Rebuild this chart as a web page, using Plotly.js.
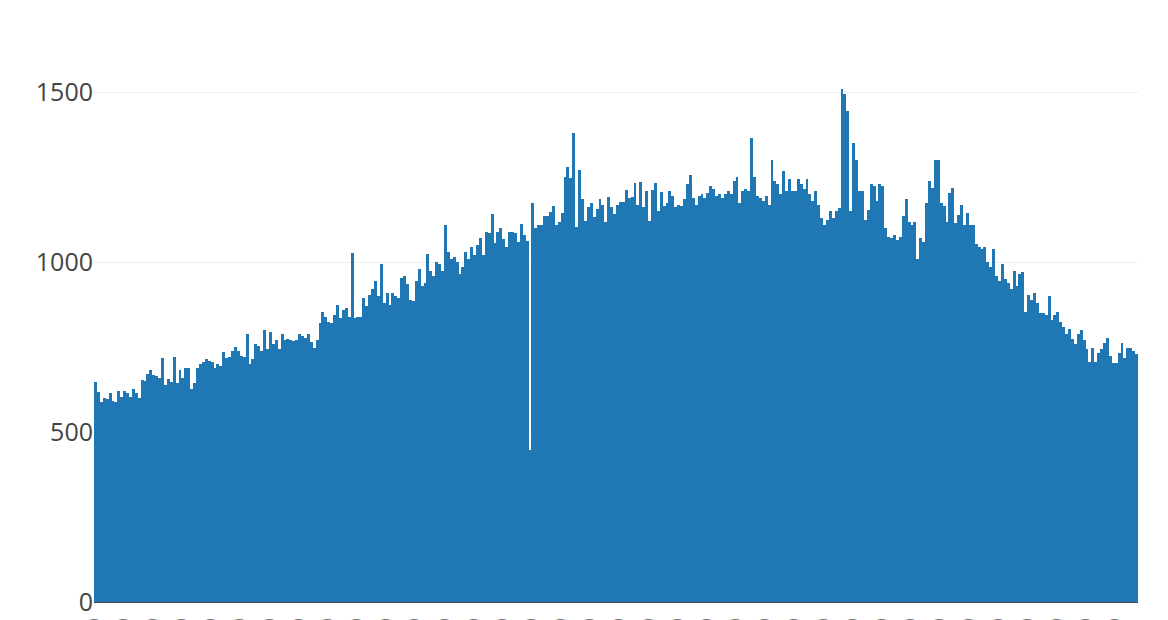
<!DOCTYPE html>
<html><head><meta charset="utf-8">
<script src="https://cdn.plot.ly/plotly-3.0.1.min.js"></script>
<style>html,body{margin:0;padding:0;overflow:hidden;background:#fff}</style>
</head><body><div id="chart"></div>
<script>
const startDate = [2019, 0, 1];
const values = [
647, 618, 590, 600, 598, 615, 592, 590, 620, 603,
622, 615, 602, 628, 615, 600, 652, 650, 672, 682,
668, 664, 660, 717, 640, 655, 648, 720, 645, 682,
660, 690, 688, 628, 645, 688, 700, 705, 716, 708,
705, 690, 700, 695, 735, 718, 720, 740, 752, 738,
725, 720, 790, 700, 715, 760, 755, 740, 800, 745,
795, 760, 770, 745, 790, 770, 775, 770, 768, 772,
790, 782, 778, 790, 765, 748, 770, 820, 855, 840,
825, 820, 845, 875, 835, 860, 865, 840, 1027, 835,
840, 840, 895, 870, 905, 920, 945, 900, 995, 880,
910, 875, 910, 900, 895, 955, 960, 935, 890, 885,
945, 980, 930, 940, 1025, 975, 960, 1000, 995, 975,
1110, 1030, 1010, 1015, 1000, 965, 985, 1030, 1010, 1045,
1020, 1050, 1070, 1020, 1088, 1085, 1141, 1056, 1088, 1100,
1068, 1044, 1088, 1088, 1085, 1060, 1112, 1079, 1062, 447,
1173, 1100, 1109, 1109, 1135, 1135, 1147, 1165, 1109, 1118,
1144, 1250, 1279, 1247, 1380, 1103, 1273, 1185, 1121, 1162,
1173, 1132, 1156, 1185, 1168, 1118, 1191, 1162, 1141, 1170,
1176, 1176, 1214, 1188, 1191, 1232, 1168, 1235, 1162, 1209,
1121, 1212, 1232, 1150, 1206, 1165, 1173, 1209, 1194, 1162,
1168, 1165, 1185, 1230, 1258, 1190, 1170, 1195, 1200, 1190,
1205, 1225, 1215, 1195, 1200, 1190, 1200, 1210, 1200, 1240,
1250, 1175, 1210, 1215, 1210, 1365, 1250, 1195, 1190, 1180,
1195, 1170, 1300, 1240, 1230, 1200, 1270, 1210, 1245, 1210,
1210, 1245, 1230, 1215, 1245, 1200, 1180, 1210, 1170, 1130,
1110, 1125, 1150, 1130, 1150, 1160, 1510, 1495, 1445, 1150,
1350, 1300, 1210, 1210, 1125, 1155, 1230, 1225, 1180, 1230,
1225, 1100, 1075, 1070, 1080, 1065, 1075, 1135, 1185, 1120,
1110, 1120, 1010, 1070, 1060, 1175, 1240, 1220, 1300, 1300,
1175, 1165, 1120, 1205, 1220, 1115, 1140, 1170, 1110, 1145,
1110, 1110, 1055, 1045, 1040, 1045, 1000, 985, 1040, 960,
945, 995, 950, 940, 920, 975, 930, 965, 970, 855,
905, 890, 910, 880, 850, 850, 845, 900, 830, 845,
855, 825, 810, 790, 805, 775, 760, 790, 800, 770,
745, 707, 747, 707, 733, 744, 761, 776, 723, 703,
704, 733, 761, 717, 747, 747, 739, 729
];
function pad2(n) { return (n < 10 ? '0' : '') + n; }
const categories = values.map(function (_, i) {
  const d = new Date(Date.UTC(startDate[0], startDate[1], startDate[2] + i));
  return pad2(d.getUTCMonth() + 1) + '/' + pad2(d.getUTCDate()) + '/' + d.getUTCFullYear();
});
const yTickVals = [0, 500, 1000, 1500];

Plotly.newPlot('chart', [{
  type: 'bar', x: categories, y: values,
  marker: {color: '#1f77b4'}
}], {
  width: 1168, height: 820,
  margin: {l: 94, r: 30, t: 62, b: 218, autoexpand: false},
  paper_bgcolor: '#fff', plot_bgcolor: '#fff',
  font: {family: '"Open Sans", verdana, arial, sans-serif', size: 25, color: '#444'},
  xaxis: {type: 'category', dtick: 10, tickangle: -90, showgrid: false,
          ticklabelstandoff: 5,
          showline: true, linecolor: '#444', linewidth: 1, automargin: false},
  yaxis: {tickvals: yTickVals, gridcolor: '#eee', zeroline: false, automargin: false},
  bargap: 0, showlegend: false
}, {displayModeBar: false, staticPlot: true});
</script>
</body></html>
